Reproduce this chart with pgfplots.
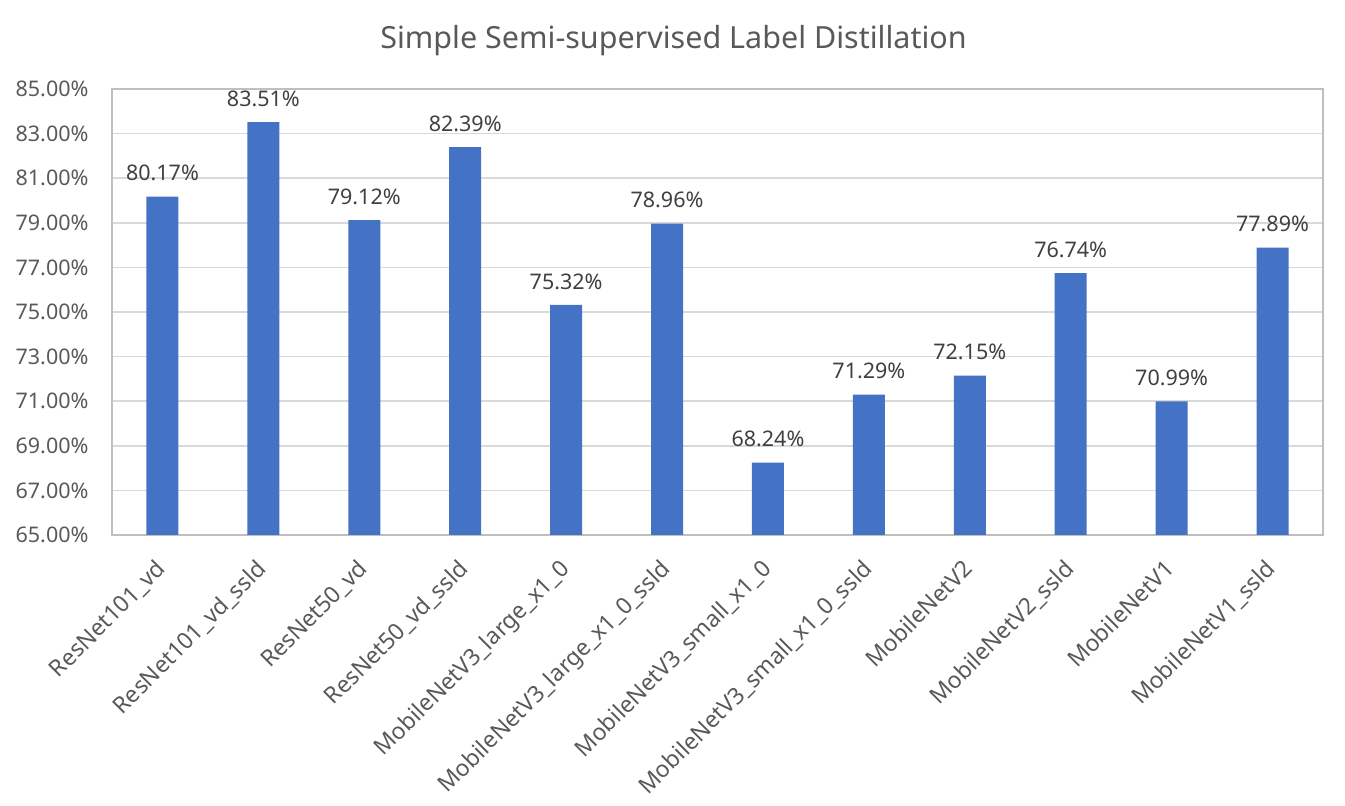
\documentclass[border=0pt]{standalone}
\usepackage{pgfplots}
\pgfplotsset{compat=1.18}
\usepackage{fontspec}
\setmainfont{Noto Sans}
\definecolor{barblue}{HTML}{4472C4}
\definecolor{gridgray}{HTML}{D9D9D9}
\definecolor{framegray}{HTML}{BFBFBF}
\definecolor{ticktext}{HTML}{595959}
\definecolor{valtext}{HTML}{404040}
\begin{document}
\begin{tikzpicture}[x=1pt,y=1pt]
\path (0,0) rectangle (1345,806);
\begin{axis}[
  at={(112pt,271pt)}, anchor=south west,
  scale only axis, width=1211pt, height=446pt,
  xmin=-0.5, xmax=11.5, ymin=65, ymax=85,
  ytick={65,67,...,85},
  xtick=data,
  xticklabels={ResNet101\_vd,ResNet101\_vd\_ssld,ResNet50\_vd,ResNet50\_vd\_ssld,MobileNetV3\_large\_x1\_0,MobileNetV3\_large\_x1\_0\_ssld,MobileNetV3\_small\_x1\_0,MobileNetV3\_small\_x1\_0\_ssld,MobileNetV2,MobileNetV2\_ssld,MobileNetV1,MobileNetV1\_ssld},
  x tick label style={xshift=-8pt, yshift=-18pt, rotate=45, anchor=north east, font=\fontsize{23}{27}\selectfont, text=ticktext},
  y tick label style={font=\fontsize{21.5}{24}\selectfont, text=ticktext, xshift=-20pt},
  /pgf/number format/assume math mode=true,
  yticklabel={\pgfmathprintnumber[fixed,fixed zerofill,precision=2]{\tick}\%},
  major tick length=0pt,
  ymajorgrids, grid style={gridgray, line width=1.5pt},
  axis line style={framegray, line width=2pt},
  title={Simple Semi-supervised Label Distillation},
  title style={font=\fontsize{30.5}{36}\selectfont, text=ticktext, yshift=24pt, xshift=-44pt},
  ybar, bar width=32pt,
  nodes near coords={\pgfmathprintnumber[fixed,fixed zerofill,precision=2]{\pgfplotspointmeta}\%},
  nodes near coords style={font=\fontsize{21.5}{24}\selectfont, text=valtext, yshift=12pt},
  clip=false,
]
\addplot[fill=barblue, draw=none] coordinates {
(0,80.17) (1,83.51) (2,79.12) (3,82.39) (4,75.32) (5,78.96)
(6,68.24) (7,71.29) (8,72.15) (9,76.74) (10,70.99) (11,77.89)};
\end{axis}
\end{tikzpicture}
\end{document}
